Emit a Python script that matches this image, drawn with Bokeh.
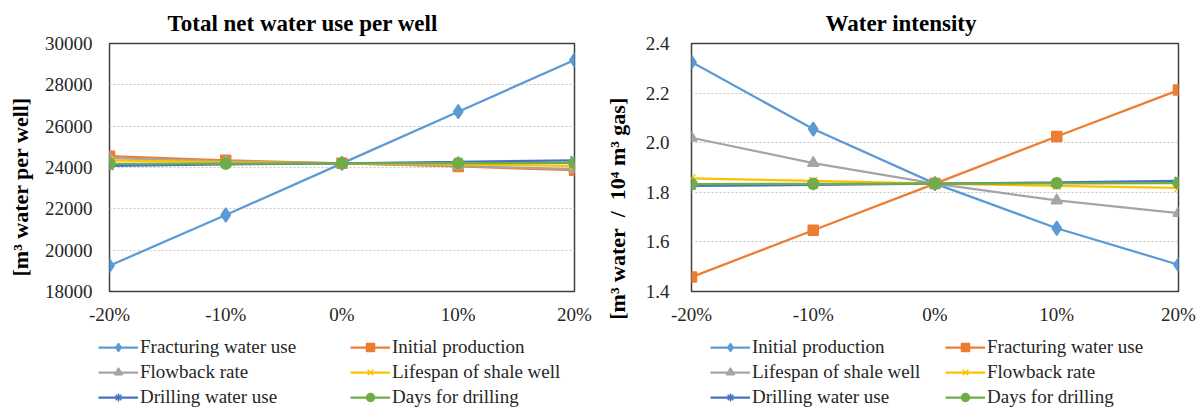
from bokeh.plotting import figure
from bokeh.models import Range1d, FixedTicker, NumeralTickFormatter, Legend, LegendItem, Title
from bokeh.layouts import row, column
from bokeh.embed import file_html
from bokeh.resources import INLINE

# ---------------- data ----------------
x_pos = [-20, -10, 0, 10, 20]
x_labels = ["-20%", "-10%", "0%", "10%", "20%"]

left_title = "Total net water use per well"
left_ylabel = "[m³ water per well]" + "\u00a0" * 7
left_names = ["Fracturing water use", "Initial production", "Flowback rate",
              "Lifespan of shale well", "Drilling water use", "Days for drilling"]
left_frac = [19250, 21700, 24200, 26700, 29200]
left_init = [24550, 24350, 24200, 24050, 23870]
left_flow = [24450, 24300, 24200, 24080, 23920]
left_life = [24350, 24250, 24200, 24150, 24080]
left_drill = [24080, 24150, 24200, 24270, 24350]
left_days = [24180, 24190, 24200, 24210, 24220]
left_ticks = [18000, 20000, 22000, 24000, 26000, 28000, 30000]

right_title = "Water intensity"
right_ylabel = "[m³ water\u00a0\u00a0/\u00a0\u00a010⁴ m³ gas]" + "\u00a0" * 15
right_names = ["Initial production", "Fracturing water use", "Lifespan of shale well",
               "Flowback rate", "Drilling water use", "Days for drilling"]
right_init = [2.325, 2.055, 1.835, 1.655, 1.508]
right_frac = [1.458, 1.647, 1.835, 2.025, 2.212]
right_life = [2.020, 1.918, 1.835, 1.767, 1.716]
right_flow = [1.856, 1.846, 1.835, 1.826, 1.818]
right_drill = [1.826, 1.830, 1.835, 1.840, 1.846]
right_days = [1.833, 1.834, 1.835, 1.836, 1.837]
right_ticks = [1.4, 1.6, 1.8, 2.0, 2.2, 2.4]

# ---------------- styles ----------------
colors = ["#5B9BD5", "#ED7D31", "#A5A5A5", "#FFC000", "#4472C4", "#70AD47"]
markers = ["diamond", "square", "triangle", "x", "asterisk", "circle"]
msizes = [14, 10, 11, 11, 11, 11]
FONT = "Liberation Serif"


def make_fig(title, title_offset, ylabel, names, series, ticks, yr, fmt,
             width, b_left, b_right, ystandoff, label_standoff):
    p = figure(width=width, height=334, output_backend="svg", toolbar_location=None,
               x_range=Range1d(-20, 20), y_range=Range1d(*yr),
               min_border_left=b_left, min_border_right=b_right,
               min_border_top=43, min_border_bottom=43,
               background_fill_color="white", border_fill_color="white")
    p.title = Title(text=title, align="left", offset=title_offset, standoff=15,
                    text_font=FONT, text_font_size="23px", text_font_style="bold",
                    text_color="black")
    p.outline_line_color = "#404040"
    p.outline_line_width = 1.5

    p.xaxis.ticker = FixedTicker(ticks=x_pos)
    p.xaxis.major_label_overrides = {x: l for x, l in zip(x_pos, x_labels)}
    p.yaxis.ticker = FixedTicker(ticks=ticks)
    p.yaxis.formatter = NumeralTickFormatter(format=fmt)
    for ax in (p.xaxis, p.yaxis):
        ax.axis_line_color = None
        ax.major_tick_line_color = None
        ax.minor_tick_line_color = None
        ax.major_tick_out = 0
        ax.major_tick_in = 0
        ax.minor_tick_out = 0
        ax.minor_tick_in = 0
        ax.major_label_text_font = FONT
        ax.major_label_text_font_size = "19px"
        ax.major_label_text_color = "#262626"
    p.xaxis.major_label_standoff = 12
    p.yaxis.major_label_standoff = ystandoff
    p.yaxis.axis_label = ylabel
    p.yaxis.axis_label_text_font = FONT
    p.yaxis.axis_label_text_font_size = "22px"
    p.yaxis.axis_label_text_font_style = "bold"
    p.yaxis.axis_label_text_color = "black"
    p.yaxis.axis_label_standoff = label_standoff

    p.xgrid.grid_line_color = None
    p.ygrid.grid_line_color = "#C8C8C8"
    p.ygrid.grid_line_dash = "2 2"
    p.ygrid.grid_line_width = 1

    for i, (name, ys) in enumerate(zip(names, series)):
        p.line(x_pos, ys, line_color=colors[i], line_width=2.25)
        p.scatter(x_pos, ys, marker=markers[i], size=msizes[i],
                  fill_color=colors[i], line_color=colors[i], line_width=1.5)
    return p


def make_legend_fig(names, series, width, col_x):
    # a strip below each chart that only carries the legend; its ranges keep the
    # series themselves out of view so only the legend keys show
    lf = figure(width=width, height=73, output_backend="svg", toolbar_location=None,
                x_range=Range1d(1000, 1001), y_range=Range1d(1000, 1001),
                x_axis_type=None, y_axis_type=None,
                min_border_left=0, min_border_right=0, min_border_top=0, min_border_bottom=0,
                background_fill_color="white", border_fill_color="white")
    lf.outline_line_color = None
    lf.grid.visible = False
    items = []
    for i, (name, ys) in enumerate(zip(names, series)):
        ln = lf.line(x_pos, ys, line_color=colors[i], line_width=2.25)
        mk = lf.scatter(x_pos, ys, marker=markers[i], size=msizes[i] - 3,
                        fill_color=colors[i], line_color=colors[i], line_width=1.5)
        items.append(LegendItem(label=name, renderers=[ln, mk]))
    for col, vx in enumerate(col_x):
        leg = Legend(items=items[col::2], location=(vx, -1),
                     label_text_font=FONT, label_text_font_size="19px",
                     label_text_color="#262626",
                     glyph_width=40, glyph_height=20, label_height=20,
                     spacing=3, padding=0, margin=0, label_standoff=2,
                     border_line_color=None, background_fill_alpha=0)
        lf.add_layout(leg, "center")
    return lf


left_series = [left_frac, left_init, left_flow, left_life, left_drill, left_days]
right_series = [right_init, right_frac, right_life, right_flow, right_drill, right_days]

p1 = make_fig(left_title, 58, left_ylabel, left_names, left_series,
              left_ticks, (18000, 30000), "0", 600, 109, 26, 17, 9)
p2 = make_fig(right_title, 134, right_ylabel, right_names, right_series,
              right_ticks, (1.4, 2.4), "0.0", 600, 91, 22, 22, 13)
l1 = make_legend_fig(left_names, left_series, 600, [98, 350])
l2 = make_legend_fig(right_names, right_series, 600, [110, 345])

layout = column(row(p1, p2), row(l1, l2))
open("out.html", "w").write(file_html(layout, INLINE))
